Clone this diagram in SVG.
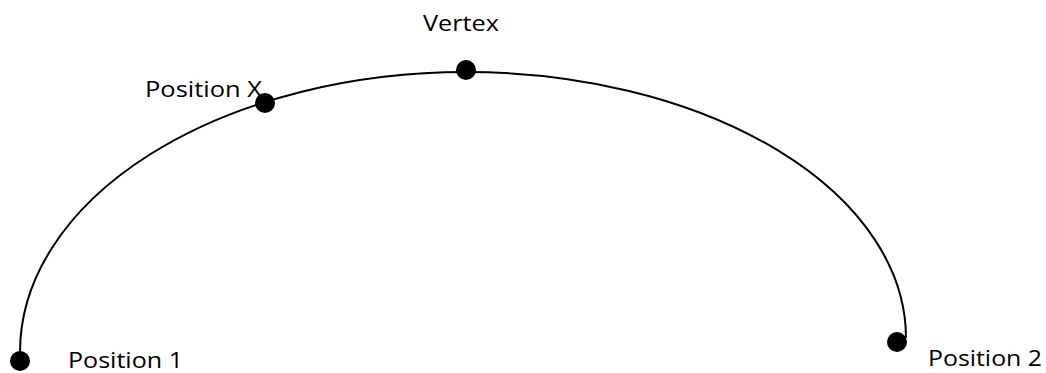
<svg xmlns="http://www.w3.org/2000/svg" width="1046" height="373" viewBox="0 0 1046 373">
<style>
.lbl{font-family:"Open Sans","Liberation Sans",sans-serif;font-size:22px;fill:#000}
.dot{fill:#000}
.curve{fill:none;stroke:#000;stroke-width:2}
</style>
<rect width="1046" height="373" fill="#fff"/>
<g id="connectors">
<path class="curve" d="M20,352 A446,280 0 0 1 466,72 A440,266 0 0 1 906,338"/>
</g>
<g id="position1"><circle class="dot" cx="20" cy="361" r="10"/><text class="lbl" x="68" y="368" textLength="115" lengthAdjust="spacingAndGlyphs">Position 1</text></g>
<g id="positionX"><circle class="dot" cx="265" cy="103" r="10"/><text class="lbl" x="145" y="97" textLength="117" lengthAdjust="spacingAndGlyphs">Position X</text></g>
<g id="vertex"><circle class="dot" cx="466" cy="70" r="10"/><text class="lbl" x="423" y="31" textLength="76" lengthAdjust="spacingAndGlyphs">Vertex</text></g>
<g id="position2"><circle class="dot" cx="897" cy="342" r="10"/><text class="lbl" x="928" y="366" textLength="114" lengthAdjust="spacingAndGlyphs">Position 2</text></g>
</svg>
